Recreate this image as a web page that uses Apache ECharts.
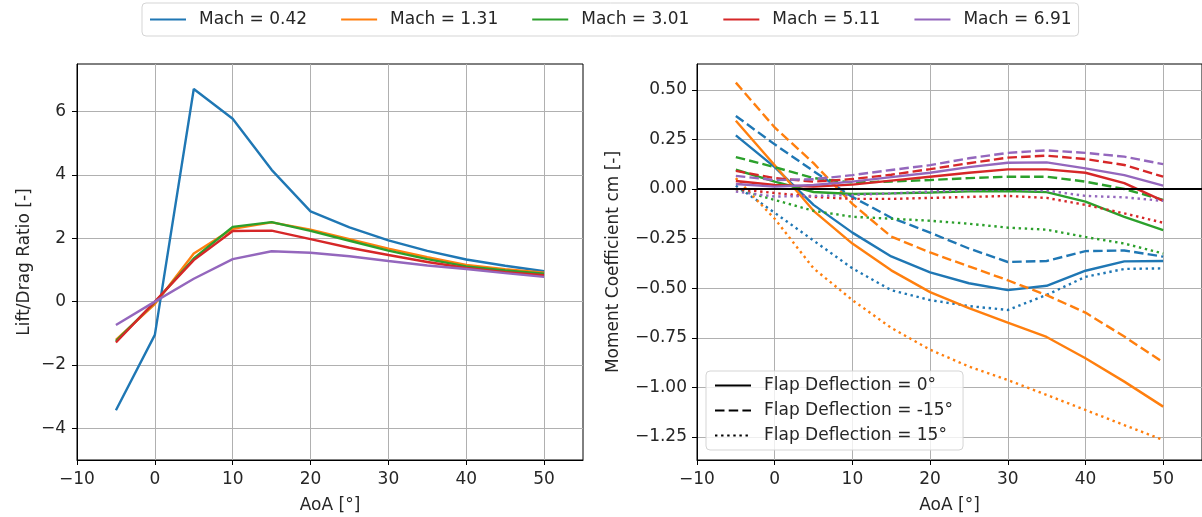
<!DOCTYPE html>
<html>
<head>
<meta charset="utf-8">
<script src="https://cdn.jsdelivr.net/npm/echarts@6/dist/echarts.min.js"></script>
<style>
html,body{margin:0;padding:0;background:#fff;}
#chart{width:1202px;height:517px;}
</style>
</head>
<body>
<div id="chart"></div>
<script>
// ---------- data ----------
const aoa = [-5, 0, 5, 10, 15, 20, 25, 30, 35, 40, 45, 50];
const machLabels = ['Mach = 0.42', 'Mach = 1.31', 'Mach = 3.01', 'Mach = 5.11', 'Mach = 6.91'];
const flapLabels = ['Flap Deflection = 0°', 'Flap Deflection = -15°', 'Flap Deflection = 15°'];

// Lift/Drag ratio per Mach
const ld_m042 = [-3.43, -1.05, 6.71, 5.77, 4.16, 2.85, 2.34, 1.93, 1.60, 1.33, 1.13, 0.96];
const ld_m131 = [-1.21, -0.08, 1.52, 2.30, 2.50, 2.27, 1.97, 1.67, 1.40, 1.16, 1.02, 0.91];
const ld_m301 = [-1.25, -0.02, 1.36, 2.36, 2.51, 2.23, 1.92, 1.61, 1.34, 1.11, 0.98, 0.88];
const ld_m511 = [-1.29, 0.00, 1.31, 2.23, 2.24, 1.97, 1.70, 1.47, 1.25, 1.06, 0.93, 0.83];
const ld_m691 = [-0.74, 0.00, 0.72, 1.34, 1.59, 1.54, 1.43, 1.28, 1.14, 1.03, 0.90, 0.78];

// Moment coefficient per Mach and flap deflection (0°, -15°, 15°)
const cm_m042_0   = [0.270, 0.110, -0.080, -0.220, -0.340, -0.420, -0.475, -0.510, -0.488, -0.412, -0.365, -0.363];
const cm_m042_n15 = [0.368, 0.225, 0.090, -0.040, -0.145, -0.220, -0.300, -0.368, -0.363, -0.313, -0.310, -0.341];
const cm_m042_p15 = [0.017, -0.120, -0.260, -0.400, -0.510, -0.560, -0.590, -0.610, -0.534, -0.443, -0.403, -0.400];
const cm_m131_0   = [0.344, 0.120, -0.110, -0.275, -0.410, -0.520, -0.600, -0.674, -0.746, -0.853, -0.971, -1.097];
const cm_m131_n15 = [0.536, 0.310, 0.130, -0.075, -0.240, -0.320, -0.390, -0.460, -0.535, -0.623, -0.744, -0.874];
const cm_m131_p15 = [0.055, -0.150, -0.400, -0.560, -0.700, -0.810, -0.895, -0.963, -1.038, -1.114, -1.190, -1.265];
const cm_m301_0   = [0.097, 0.037, -0.015, -0.025, -0.022, -0.018, -0.012, -0.010, -0.016, -0.064, -0.140, -0.207];
const cm_m301_n15 = [0.161, 0.110, 0.055, 0.032, 0.038, 0.045, 0.055, 0.062, 0.062, 0.037, 0.000, -0.055];
const cm_m301_p15 = [0.000, -0.055, -0.110, -0.140, -0.150, -0.160, -0.175, -0.195, -0.205, -0.242, -0.275, -0.325];
const cm_m511_0   = [0.040, 0.020, 0.012, 0.022, 0.042, 0.062, 0.082, 0.099, 0.099, 0.082, 0.030, -0.060];
const cm_m511_n15 = [0.091, 0.055, 0.037, 0.050, 0.072, 0.100, 0.130, 0.158, 0.168, 0.151, 0.121, 0.062];
const cm_m511_p15 = [0.000, -0.020, -0.040, -0.050, -0.050, -0.045, -0.040, -0.035, -0.045, -0.080, -0.123, -0.170];
const cm_m691_0   = [0.025, 0.012, 0.020, 0.037, 0.060, 0.082, 0.110, 0.132, 0.134, 0.104, 0.070, 0.017];
const cm_m691_n15 = [0.066, 0.045, 0.049, 0.070, 0.096, 0.120, 0.155, 0.182, 0.195, 0.182, 0.163, 0.125];
const cm_m691_p15 = [-0.013, -0.038, -0.035, -0.030, -0.022, -0.013, -0.005, -0.002, -0.008, -0.035, -0.042, -0.060];

// tick values
const xTicks = [-10, 0, 10, 20, 30, 40, 50];
const ldTicks = [-4, -2, 0, 2, 4, 6];
const cmTicks = [-1.25, -1.00, -0.75, -0.50, -0.25, 0.00, 0.25, 0.50];

// ---------- assembly ----------
const ldSets = [ld_m042, ld_m131, ld_m301, ld_m511, ld_m691];
const cmSets = [
  [cm_m042_0, cm_m042_n15, cm_m042_p15],
  [cm_m131_0, cm_m131_n15, cm_m131_p15],
  [cm_m301_0, cm_m301_n15, cm_m301_p15],
  [cm_m511_0, cm_m511_n15, cm_m511_p15],
  [cm_m691_0, cm_m691_n15, cm_m691_p15]
];
const colors = ['#1f77b4', '#ff7f0e', '#2ca02c', '#d62728', '#9467bd'];
const dashTypes = ['solid', [9.5, 4.2], [2.4, 3.7]];
const LW = 2.4;
const FONT = 'DejaVu Sans';
const TXT = '#262626';
const pair = (xs, ys) => xs.map((x, i) => [x, ys[i]]);
const minus = s => String(s).replace('-', '\u2212');

const series = [];
ldSets.forEach((ys, i) => {
  series.push({
    name: machLabels[i], type: 'line', xAxisIndex: 0, yAxisIndex: 0,
    data: pair(aoa, ys), symbol: 'none', color: colors[i],
    lineStyle: { width: LW, color: colors[i] }, z: 3
  });
});
cmSets.forEach((sets, i) => {
  sets.forEach((ys, j) => {
    series.push({
      name: machLabels[i], type: 'line', xAxisIndex: 1, yAxisIndex: 1,
      data: pair(aoa, ys), symbol: 'none', color: colors[i],
      lineStyle: { width: LW, color: colors[i], type: dashTypes[j], cap: 'butt' }, z: 3
    });
  });
});
// zero line on moment plot
series[5].markLine = {
  silent: true, symbol: 'none', animation: false,
  label: { show: false },
  lineStyle: { color: '#000', width: 2, type: 'solid' },
  data: [{ yAxis: 0 }]
};
// style-only entries for the flap legend
flapLabels.forEach((n, j) => {
  series.push({
    name: n, type: 'line', xAxisIndex: 1, yAxisIndex: 1, data: [],
    symbol: 'none', color: '#000',
    lineStyle: { width: LW, color: '#000', type: dashTypes[j] }
  });
});

const axisText = { fontFamily: FONT, fontSize: 17, color: TXT };

function xAxis(gridIndex) {
  return {
    type: 'value', gridIndex, min: -10, max: 55,
    name: 'AoA [°]', nameLocation: 'middle', nameGap: 37,
    nameTextStyle: axisText,
    axisLine: { show: true, onZero: false, lineStyle: { color: '#000', width: 1 } },
    axisTick: { show: true, length: 5, customValues: xTicks, lineStyle: { color: '#000' } },
    axisLabel: Object.assign({ customValues: xTicks, margin: 11, formatter: v => minus(v) }, axisText),
    splitLine: { show: true, lineStyle: { color: '#b0b0b0', width: 1 } }
  };
}

const legendItem = { color: 'rgba(0,0,0,0)', borderWidth: 0, opacity: 0 };

const option = {
  animation: false,
  backgroundColor: '#fff',
  textStyle: { fontFamily: FONT },
  grid: [
    { left: 77, right: 619, top: 64, bottom: 57, show: true, borderColor: '#000', borderWidth: 1, backgroundColor: 'transparent', outerBoundsMode: 'none', containLabel: false },
    { left: 697, right: 0, top: 64, bottom: 57, show: true, borderColor: '#000', borderWidth: 1, backgroundColor: 'transparent', outerBoundsMode: 'none', containLabel: false }
  ],
  xAxis: [xAxis(0), xAxis(1)],
  yAxis: [
    {
      type: 'value', gridIndex: 0, min: -5, max: 7.5,
      name: 'Lift/Drag Ratio [-]', nameLocation: 'middle', nameGap: 44, nameRotate: 90,
      nameTextStyle: axisText,
      axisLine: { show: true, onZero: false, lineStyle: { color: '#000', width: 1 } },
      axisTick: { show: true, length: 5, customValues: ldTicks, lineStyle: { color: '#000' } },
      axisLabel: Object.assign({ customValues: ldTicks, margin: 11, formatter: v => minus(v) }, axisText),
      splitLine: { show: true, lineStyle: { color: '#b0b0b0', width: 1 } }
    },
    {
      type: 'value', gridIndex: 1, min: -1.366, max: 0.63,
      name: 'Moment Coefficient cm [-]', nameLocation: 'middle', nameGap: 75, nameRotate: 90,
      nameTextStyle: axisText,
      axisLine: { show: true, onZero: false, lineStyle: { color: '#000', width: 1 } },
      axisTick: { show: true, length: 5, customValues: cmTicks, lineStyle: { color: '#000' } },
      axisLabel: Object.assign({ customValues: cmTicks, margin: 10, formatter: v => minus(Number(v).toFixed(2)) }, axisText),
      splitLine: { show: true, lineStyle: { color: '#b0b0b0', width: 1 } }
    }
  ],
  legend: [
    {
      data: machLabels, orient: 'horizontal', left: 142, top: 3,
      itemWidth: 36, itemHeight: 14, itemGap: 33, padding: [8, 7],
      borderColor: '#d5d5d5', borderWidth: 1, borderRadius: 4,
      itemStyle: legendItem,
      textStyle: { fontFamily: FONT, fontSize: 17, color: TXT, padding: [0, 0, 0, 8] },
      selectedMode: false
    },
    {
      data: flapLabels, orient: 'vertical', left: 706, top: 371,
      itemWidth: 36, itemHeight: 14, itemGap: 8, padding: [6, 10, 6, 8],
      borderColor: '#d5d5d5', borderWidth: 1, borderRadius: 4,
      backgroundColor: 'rgba(255,255,255,0.8)',
      itemStyle: legendItem,
      textStyle: { fontFamily: FONT, fontSize: 17, color: TXT, padding: [0, 0, 0, 8] },
      selectedMode: false
    }
  ],
  series
};

const chart = echarts.init(document.getElementById('chart'), null, { renderer: 'canvas' });
chart.setOption(option);
</script>
</body>
</html>
